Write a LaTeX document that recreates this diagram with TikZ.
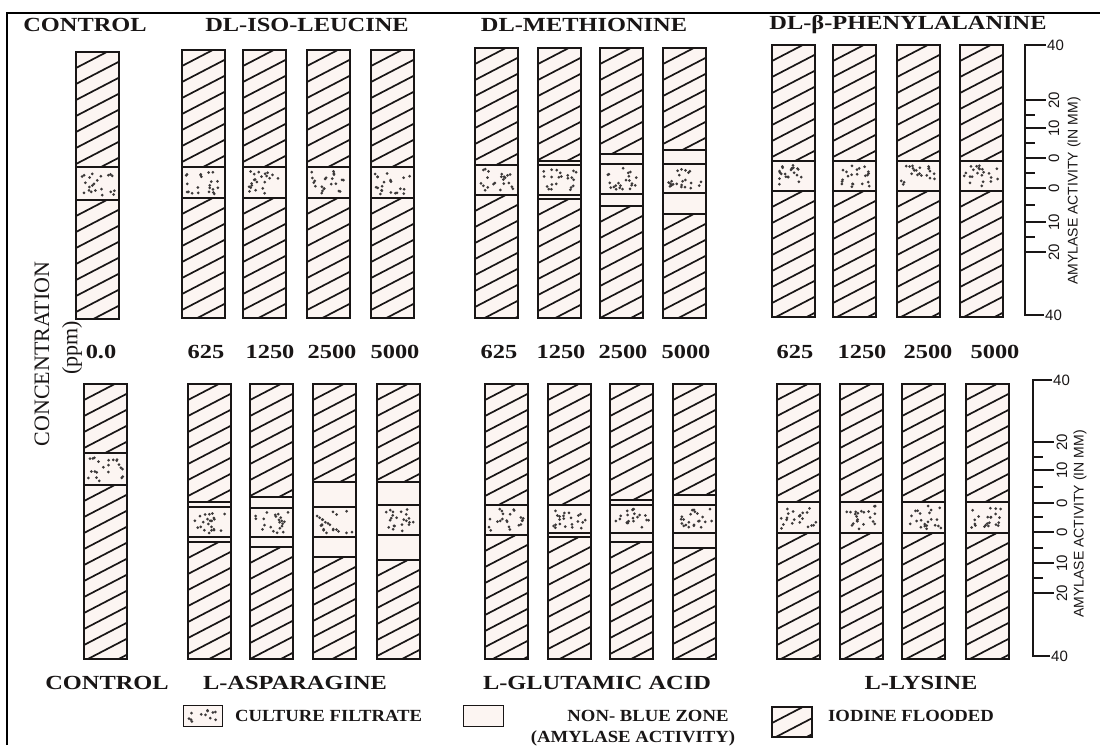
\documentclass[tikz,border=0pt]{standalone}
\usepackage{fontspec}
\setmainfont{Liberation Serif}
\newfontfamily\tfont[FakeStretch=1.22]{Liberation Serif}
\newfontfamily\lfont[FakeStretch=1.1]{Liberation Serif}
\newfontfamily\afont{Liberation Sans}
\definecolor{tubefill}{RGB}{252,245,242}
\definecolor{ink}{RGB}{25,22,22}
\tikzset{
  ttl/.style={font=\tfont\bfseries\fontsize{20}{22}\selectfont, inner sep=0pt, text=ink},
  lgd/.style={font=\lfont\bfseries\fontsize{17}{19}\selectfont, inner sep=0pt, text=ink},
  conc/.style={font=\fontsize{22}{24}\selectfont, inner sep=0pt, text=ink, rotate=90},
  axlbl/.style={font=\afont\fontsize{14}{16}\selectfont, inner sep=0pt, text=ink},
  ticklbl/.style={font=\afont\fontsize{15}{17}\selectfont, inner sep=0pt, text=ink},
  hatchline/.style={draw=ink, line width=1.7pt},
  outline/.style={draw=ink, line width=1.8pt},
  sepline/.style={draw=ink, line width=1.3pt},
  axisline/.style={draw=ink, line width=1.5pt},
  frameline/.style={draw=black, line width=2.4pt},
  dotc/.style={fill=ink!85},
}
% hatched section: x1 y1 x2 y2
\newcommand\hatchsec[4]{%
  \begin{scope}
    \clip (#1,#2) rectangle (#3,#4);
    \pgfmathtruncatemacro\nn{(#4-#2+26)/16+1}
    \foreach \k in {0,...,\nn}{
      \pgfmathsetmacro\hy{#2+\k*16}
      \draw[hatchline] (#1,\hy) -- ++(50,-26);
    }
  \end{scope}}
% dotted section: x1 y1 x2 y2 count
\newcommand\dotsec[5]{%
  \foreach \j in {1,...,#5}{
    \pgfmathsetmacro\ddx{#1+4+(#3-#1-8)*rnd}
    \pgfmathsetmacro\ddy{#2+4+(#4-#2-8)*rnd}
    \fill[dotc] (\ddx,\ddy) circle (1.5);
  }}
% tube: x top bot hatchEnd dotsStart dotsEnd hatchStart
\newcommand\tube[7]{%
  \pgfmathsetmacro\xr{#1+43}
  \fill[tubefill] (#1,#2) rectangle (\xr,#3);
  \hatchsec{#1}{#2}{\xr}{#4}
  \hatchsec{#1}{#7}{\xr}{#3}
  \dotsec{#1}{#5}{\xr}{#6}{22}
  \draw[sepline] (#1,#4) -- (\xr,#4);
  \draw[sepline] (#1,#5) -- (\xr,#5);
  \draw[sepline] (#1,#6) -- (\xr,#6);
  \draw[sepline] (#1,#7) -- (\xr,#7);
  \draw[outline] (#1,#2) rectangle (\xr,#3);
}
\begin{document}
\begin{tikzpicture}[x=1pt,y=-1pt]
\pgfmathsetseed{7}
\useasboundingbox (0,0) rectangle (1100,745);
\fill[white] (0,0) rectangle (1100,745);
% frame
\draw[frameline] (7,745) -- (7,13) -- (1100,13);

% titles
\node[ttl] (tctrl) at (85,25) {CONTROL};
\node[ttl] (tiso) at (307,25) {DL-ISO-LEUCINE};
\node[ttl] (tmet) at (584,25) {DL-METHIONINE};
\node[ttl] (tphe) at (908,25) {DL-β-PHENYLALANINE};

% top row tubes
\tube{76}{52}{319}{167}{167}{200}{200}
\tube{182}{50}{318}{167}{167}{198}{198}
\tube{243}{50}{318}{167}{167}{198}{198}
\tube{307}{50}{318}{167}{167}{198}{198}
\tube{371}{50}{318}{167}{167}{198}{198}
\tube{475}{48}{318}{165}{165}{195}{195}
\tube{538}{48}{318}{161}{165}{195}{199}
\tube{600}{48}{318}{154}{164}{194}{206}
\tube{663}{48}{318}{150}{164}{193}{214}
\tube{772}{45}{317}{161}{161}{191}{191}
\tube{833}{45}{317}{161}{161}{191}{191}
\tube{897}{45}{317}{161}{161}{191}{191}
\tube{960}{45}{317}{161}{161}{191}{191}

% bottom row tubes
\tube{84}{384}{659}{453}{453}{485}{485}
\tube{188}{384}{659}{502}{507}{537}{542}
\tube{250}{384}{659}{497}{508}{537}{547}
\tube{313}{384}{659}{482}{507}{537}{557}
\tube{377}{384}{659}{482}{505}{535}{560}
\tube{485}{384}{659}{505}{505}{535}{535}
\tube{548}{384}{659}{505}{505}{533}{537}
\tube{610}{384}{659}{500}{505}{533}{542}
\tube{673}{384}{659}{495}{505}{533}{548}
\tube{777}{384}{659}{502}{502}{533}{533}
\tube{840}{384}{659}{502}{502}{533}{533}
\tube{902}{384}{659}{502}{502}{533}{533}
\tube{966}{384}{659}{502}{502}{533}{533}

% concentration labels
\node[conc] (cc) at (42,354) {CONCENTRATION};
\node[conc] (cp) at (72,348) {(ppm)};
\node[ttl] (c0) at (101,352) {0.0};
\node[ttl] (c1) at (206,352) {625};
\node[ttl] (c2) at (270,352) {1250};
\node[ttl] (c3) at (332,352) {2500};
\node[ttl] (c4) at (395,352) {5000};
\node[ttl] (c5) at (499,352) {625};
\node[ttl] (c6) at (561,352) {1250};
\node[ttl] (c7) at (623,352) {2500};
\node[ttl] (c8) at (686,352) {5000};
\node[ttl] (c9) at (795,352) {625};
\node[ttl] (c10) at (862,352) {1250};
\node[ttl] (c11) at (928,352) {2500};
\node[ttl] (c12) at (995,352) {5000};

% top scale
\draw[axisline] (1046,45) -- (1025,45) -- (1025,315) -- (1044,315);
\foreach \yy in {100,128,158,188,222,252} \draw[axisline] (1025,\yy) -- ++(21,0);
\foreach \yy in {115,143,173,205,237} \draw[axisline] (1025,\yy) -- ++(10,0);
\node[ticklbl, anchor=west] (ta) at (1047,45) {40};
\node[ticklbl, anchor=west] (tb) at (1045,315) {40};
\node[ticklbl, rotate=90] (tc) at (1054,100) {20};
\node[ticklbl, rotate=90] (td) at (1054,128) {10};
\node[ticklbl, rotate=90] (te) at (1054,158) {0};
\node[ticklbl, rotate=90] (tf) at (1054,188) {0};
\node[ticklbl, rotate=90] (tg) at (1054,222) {10};
\node[ticklbl, rotate=90] (th) at (1054,252) {20};
\node[axlbl, rotate=90] (tax) at (1074,191) {AMYLASE ACTIVITY (IN MM)};

% bottom scale
\draw[axisline] (1052,380) -- (1033,380) -- (1033,656) -- (1050,656);
\foreach \yy in {442,470,503,532,563,593} \draw[axisline] (1033,\yy) -- ++(21,0);
\foreach \yy in {457,487,517,548,578} \draw[axisline] (1033,\yy) -- ++(10,0);
\node[ticklbl, anchor=west] (ba) at (1053,380) {40};
\node[ticklbl, anchor=west] (bb) at (1051,656) {40};
\node[ticklbl, rotate=90] (bc) at (1062,442) {20};
\node[ticklbl, rotate=90] (bd) at (1062,470) {10};
\node[ticklbl, rotate=90] (be) at (1062,503) {0};
\node[ticklbl, rotate=90] (bf) at (1062,532) {0};
\node[ticklbl, rotate=90] (bg) at (1062,563) {10};
\node[ticklbl, rotate=90] (bh) at (1062,593) {20};
\node[axlbl, rotate=90] (bax) at (1080,524) {AMYLASE ACTIVITY (IN MM)};

% bottom titles
\node[ttl] (bctrl) at (107,683) {CONTROL};
\node[ttl] (basp) at (295,683) {L-ASPARAGINE};
\node[ttl] (bglu) at (597,683) {L-GLUTAMIC ACID};
\node[ttl] (blys) at (921,683) {L-LYSINE};

% legend
\fill[tubefill] (183,705) rectangle (222,726);
\dotsec{183}{705}{222}{726}{12}
\draw[ink, line width=1pt] (183,705) rectangle (222,726);
\node[lgd, anchor=west] (lcf) at (235,716) {CULTURE FILTRATE};
\fill[tubefill] (463,705) rectangle (503,726);
\draw[ink, line width=1pt] (463,705) rectangle (503,726);
\node[lgd] (lnb) at (648,716) {NON- BLUE ZONE};
\node[lgd] (laa) at (633,738) {(AMYLASE ACTIVITY)};
\fill[tubefill] (772,707) rectangle (812,737);
\hatchsec{772}{707}{812}{737}
\draw[ink, line width=1.3pt] (772,707) rectangle (812,737);
\node[lgd, anchor=west] (lio) at (828,716) {IODINE FLOODED};
\end{tikzpicture}
\end{document}
